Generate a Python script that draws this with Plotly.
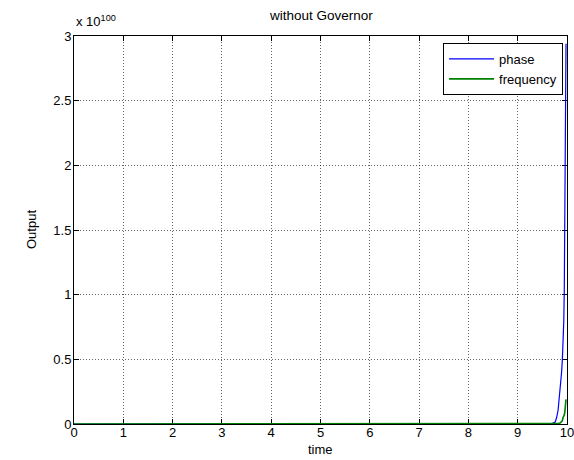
import plotly.graph_objects as go

# ---- data (output values in units of 1e100) ----
scale_exponent = 100
time = [0, 1, 2, 3, 4, 5, 6, 7, 8, 8.35, 8.4, 9.0, 9.5, 9.7, 9.76, 9.79, 9.82, 9.86,
        9.89, 9.905, 9.92, 9.935, 9.945, 9.955, 9.965, 9.98]
phase = [0, 0, 0, 0, 0, 0, 0, 0, 0, 0, 0.004, 0.004, 0.004, 0.004, 0.015, 0.05, 0.11, 0.25,
         0.40, 0.49, 0.62, 0.80, 1.04, 1.50, 2.04, 2.94]
frequency = [0, 0, 0, 0, 0, 0, 0, 0, 0, 0, 0, 0, 0, 0, 0, 0.002, 0.004, 0.008,
             0.018, 0.025, 0.05, 0.06, 0.07, 0.09, 0.13, 0.19]

x_ticks = [0, 1, 2, 3, 4, 5, 6, 7, 8, 9, 10]
x_tick_labels = ["0", "1", "2", "3", "4", "5", "6", "7", "8", "9", "10"]
y_ticks = [0, 0.5, 1, 1.5, 2, 2.5, 3]
y_tick_labels = ["0", "0.5", "1", "1.5", "2", "2.5", "3"]

title_text = "without Governor"
x_label = "time"
y_label = "Output"

FONT = "Liberation Sans, Arial, Helvetica, sans-serif"

fig = go.Figure()
fig.add_trace(go.Scatter(x=time, y=phase, mode="lines", name="phase",
                         line=dict(color="rgb(0,0,255)", width=1.2)))
fig.add_trace(go.Scatter(x=time, y=frequency, mode="lines", name="frequency",
                         line=dict(color="rgb(0,128,0)", width=1.6)))

axis_common = dict(
    showline=True, linecolor="black", linewidth=1, mirror="ticks",
    ticks="inside", ticklen=5, tickcolor="black", tickwidth=1,
    showgrid=True, gridcolor="rgba(0,0,0,0.6)", gridwidth=1, griddash="1px,2px",
    zeroline=False, tickfont=dict(family=FONT, size=13, color="black"),
    automargin=False, layer="below traces", ticklabeloverflow="allow",
)

fig.update_xaxes(range=[0, 10], tickmode="array", tickvals=x_ticks, ticktext=x_tick_labels,
                 ticklabelstandoff=-4, **axis_common)
fig.update_yaxes(range=[0, 3], tickmode="array", tickvals=y_ticks, ticktext=y_tick_labels,
                 ticklabelstandoff=-1, **axis_common)

fig.update_layout(
    width=574, height=460,
    margin=dict(l=74, r=7, t=36, b=36, pad=0),
    paper_bgcolor="white", plot_bgcolor="white",
    font=dict(family=FONT, size=13, color="black"),
    showlegend=True,
    legend=dict(x=0.992, y=0.982, xanchor="right", yanchor="top", itemwidth=45,
                bgcolor="white", bordercolor="black", borderwidth=1,
                font=dict(family=FONT, size=13, color="black")),
    annotations=[
        dict(text=title_text, xref="paper", yref="paper", x=0.5, y=1, yshift=21,
             xanchor="center", yanchor="middle", showarrow=False,
             font=dict(family=FONT, size=13.5, color="black")),
        dict(text=x_label, xref="paper", yref="paper", x=0.5, y=0, yshift=-25,
             xanchor="center", yanchor="middle", showarrow=False,
             font=dict(family=FONT, size=13, color="black")),
        dict(text=y_label, xref="paper", yref="paper", x=0, y=0.5, xshift=-43,
             xanchor="center", yanchor="middle", showarrow=False, textangle=-90,
             font=dict(family=FONT, size=13, color="black")),
        dict(text="x 10<sup>%d</sup>" % scale_exponent, xref="paper", yref="paper",
             x=0, y=1, yshift=5, xanchor="left", yanchor="bottom", showarrow=False,
             font=dict(family=FONT, size=13, color="black")),
    ],
)

fig.write_html("out.html", config={"displayModeBar": False},
               post_script="document.body.style.margin='0';document.body.style.overflow='hidden';")
